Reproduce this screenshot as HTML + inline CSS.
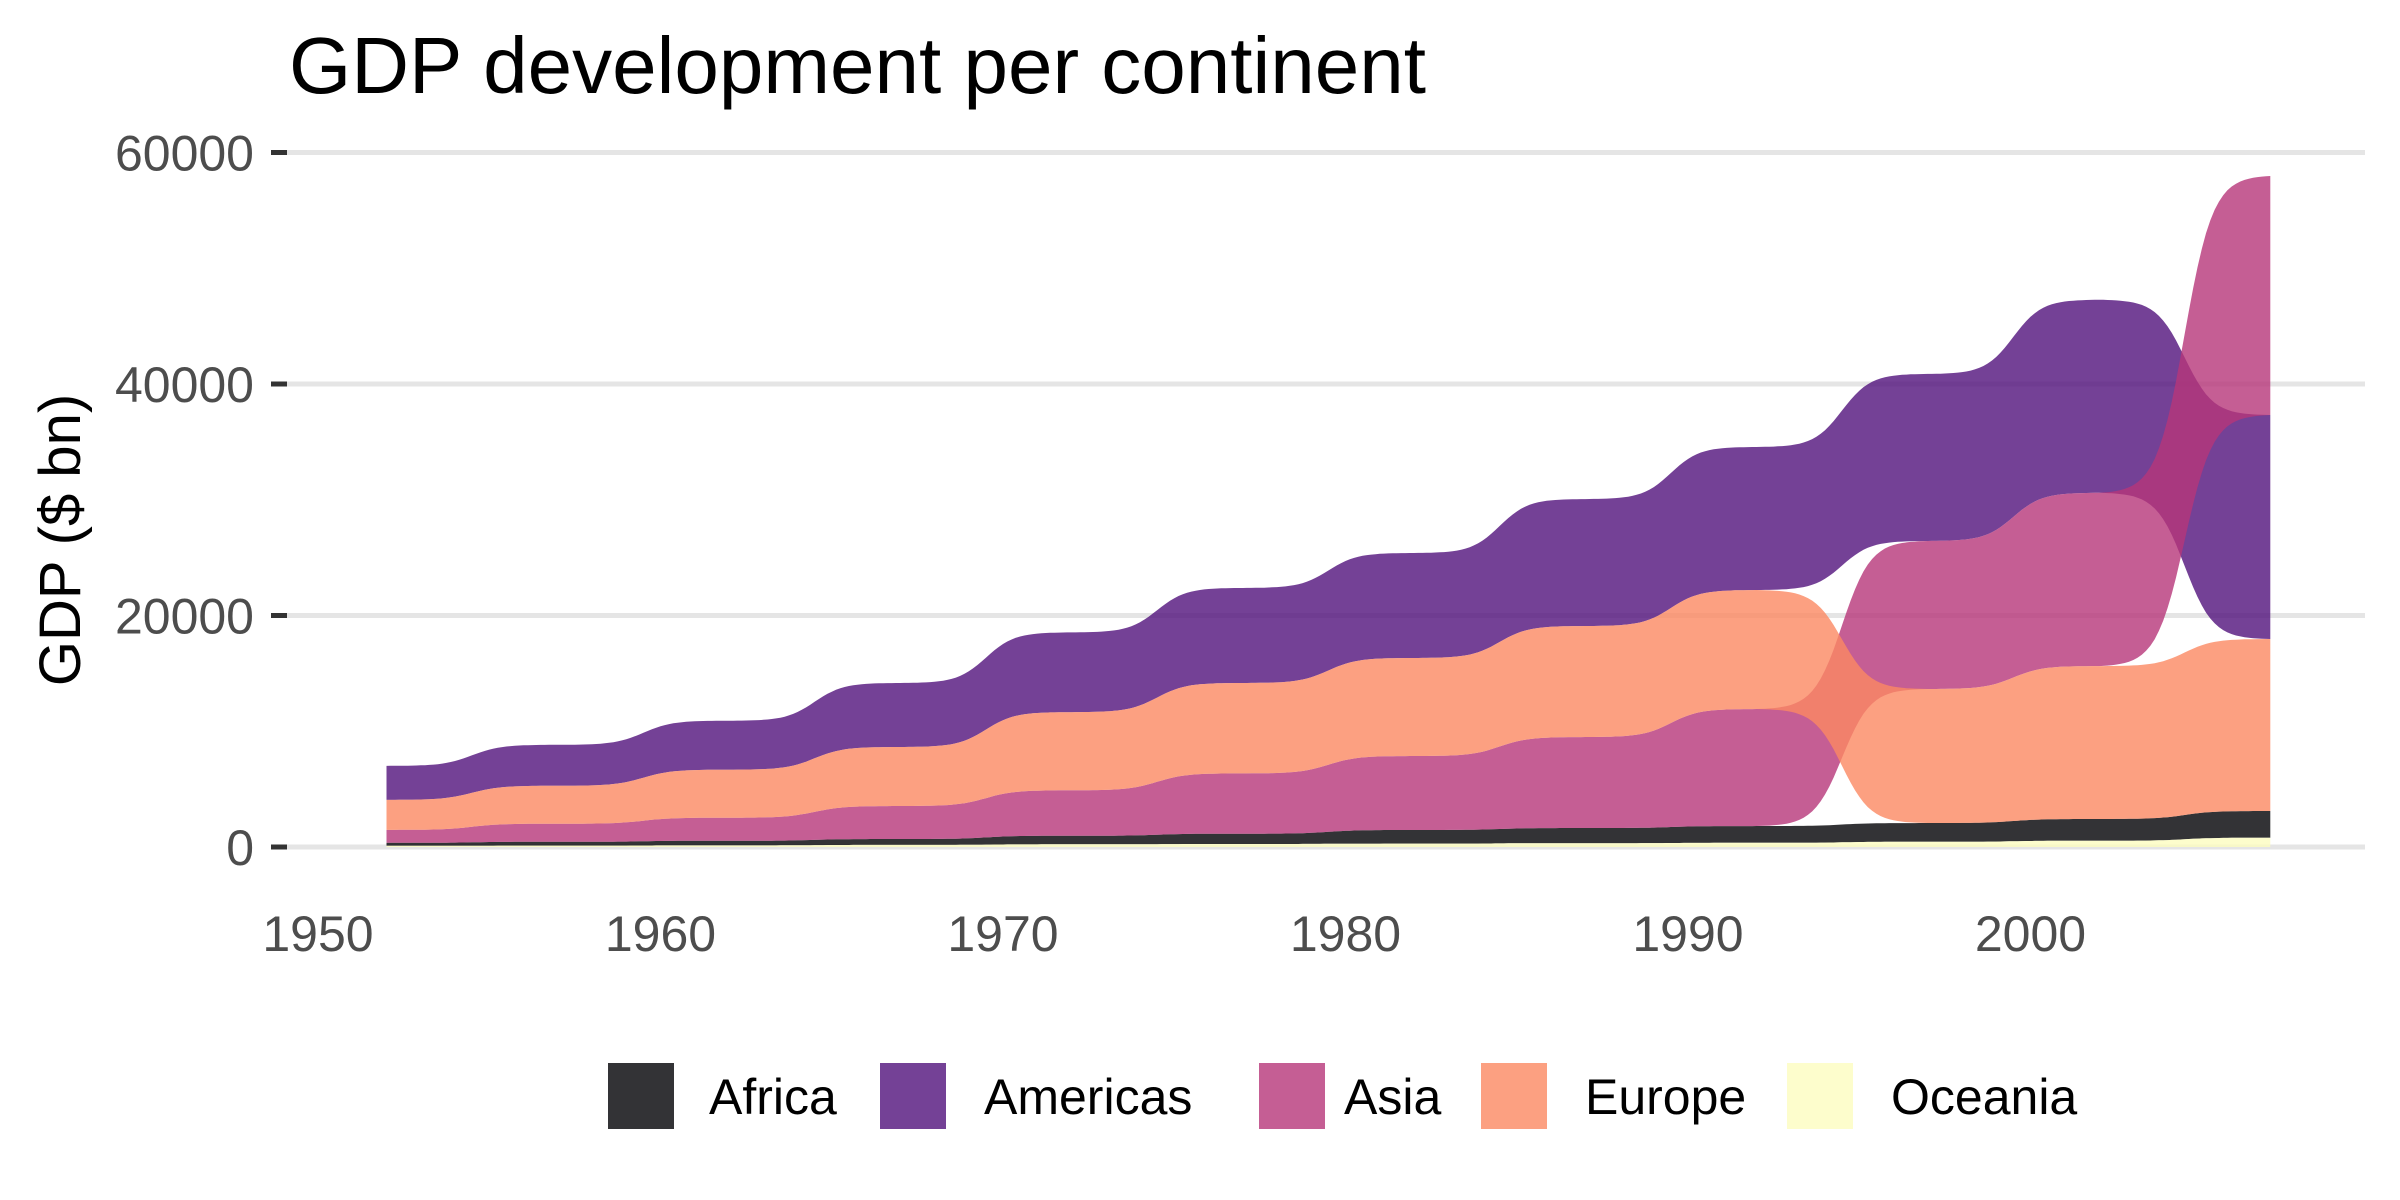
<!DOCTYPE html>
<html>
<head>
<meta charset="utf-8">
<style>
  html, body { margin: 0; padding: 0; background: #ffffff; }
  svg { display: block; font-family: "Liberation Sans", Arial, sans-serif; }
</style>
</head>
<body>
<svg id="chart" width="2400" height="1200" viewBox="0 0 2400 1200" xmlns="http://www.w3.org/2000/svg">
  <rect x="0" y="0" width="2400" height="1200" fill="#ffffff"/>
  <text x="289" y="93" font-size="80" fill="#000000">GDP development per continent</text>
  <g id="grid"></g>
  <g id="areas"></g>
  <g id="yaxis"></g>
  <g id="xaxis"></g>
  <text transform="translate(80,540) rotate(-90)" text-anchor="middle" font-size="58" fill="#000000">GDP ($ bn)</text>
  <g id="legend"></g>
</svg>
<script>
const years = [1952,1957,1962,1967,1972,1977,1982,1987,1992,1997,2002,2007];
const continents = ["Africa","Americas","Asia","Europe","Oceania"];
const africaGdp   = [260,330,400,510,740,890,1180,1310,1450,1620,1880,2310];
const americasGdp = [2940,3540,4230,5530,6890,8210,9070,10970,12360,14430,16680,19350];
const asiaGdp     = [1120,1560,1990,2850,3930,5210,6390,7860,10110,12790,14970,20650];
const europeGdp   = [2590,3280,4150,5100,6750,7810,8470,9590,10280,11580,13210,14860];
const oceaniaGdp  = [100,120,140,180,230,260,290,330,360,450,540,800];
const yTicks = [0,20000,40000,60000];
const yTickLabels = ["0","20000","40000","60000"];
const xTicks = [1950,1960,1970,1980,1990,2000];
const xTickLabels = ["1950","1960","1970","1980","1990","2000"];

const colors = ["#000004","#51127C","#B63679","#FB8861","#FCFDBF"];
const series = [africaGdp, americasGdp, asiaGdp, europeGdp, oceaniaGdp];
const NS = "http://www.w3.org/2000/svg";
const plotL = 287, plotR = 2365;
function xScale(yr) { return 318 + (yr - 1950) * 34.25; }
function yScale(v) { return 847 - v * (231.5 / 20000); }

const grid = document.getElementById('grid');
const yaxis = document.getElementById('yaxis');
yTicks.forEach((t, i) => {
  const y = yScale(t);
  const gl = document.createElementNS(NS, 'line');
  
  
  gl.setAttribute('x1', plotL); gl.setAttribute('x2', plotR);
  gl.setAttribute('y1', y); gl.setAttribute('y2', y);
  gl.setAttribute('stroke', '#e5e5e5'); gl.setAttribute('stroke-width', '5');
  grid.appendChild(gl);
  const tk = document.createElementNS(NS, 'line');
  
  
  tk.setAttribute('x1', 271); tk.setAttribute('x2', 287);
  tk.setAttribute('y1', y); tk.setAttribute('y2', y);
  tk.setAttribute('stroke', '#333333'); tk.setAttribute('stroke-width', '5');
  yaxis.appendChild(tk);
  const lb = document.createElementNS(NS, 'text');
  
  
  lb.setAttribute('x', 254); lb.setAttribute('y', y + 18);
  lb.setAttribute('text-anchor', 'end'); lb.setAttribute('font-size', '50');
  lb.setAttribute('fill', '#4d4d4d');
  lb.textContent = yTickLabels[i];
  yaxis.appendChild(lb);
});
const xaxis = document.getElementById('xaxis');
xTicks.forEach((t, i) => {
  const lb = document.createElementNS(NS, 'text');
  
  
  lb.setAttribute('x', xScale(t)); lb.setAttribute('y', 951);
  lb.setAttribute('text-anchor', 'middle'); lb.setAttribute('font-size', '50');
  lb.setAttribute('fill', '#4d4d4d');
  lb.textContent = xTickLabels[i];
  xaxis.appendChild(lb);
});

const lows = series.map(() => []), highs = series.map(() => []);
years.forEach((yr, j) => {
  const order = series.map((s, i) => i).sort((a, b) => series[a][j] - series[b][j]);
  let cum = 0;
  order.forEach(i => { lows[i][j] = cum; cum += series[i][j]; highs[i][j] = cum; });
});
function sig(t) {
  const k = 12;
  const f = u => 1 / (1 + Math.exp(-k * (u - 0.5)));
  return (f(t) - f(0)) / (f(1) - f(0));
}
function edge(arr) {
  const pts = [];
  for (let j = 0; j < years.length - 1; j++) {
    const n = 40;
    for (let s = 0; s < n; s++) {
      const t = s / n;
      const x = years[j] + (years[j + 1] - years[j]) * t;
      const v = arr[j] + (arr[j + 1] - arr[j]) * sig(t);
      pts.push([xScale(x), yScale(v)]);
    }
  }
  pts.push([xScale(years[years.length - 1]), yScale(arr[arr.length - 1])]);
  return pts;
}
const areas = document.getElementById('areas');
series.forEach((s, i) => {
  const top = edge(highs[i]);
  const bot = edge(lows[i]).reverse();
  const all = top.concat(bot);
  const d = 'M' + all.map(p => p[0].toFixed(1) + ',' + p[1].toFixed(1)).join('L') + 'Z';
  const path = document.createElementNS(NS, 'path');
  
  
  path.setAttribute('d', d);
  path.setAttribute('fill', colors[i]);
  path.setAttribute('fill-opacity', '0.8');
  areas.appendChild(path);
});

const legendX = [608, 880, 1259, 1481, 1787];
const legendTextX = [709, 984, 1344, 1585, 1891];
const legend = document.getElementById('legend');
continents.forEach((c, i) => {
  const r = document.createElementNS(NS, 'rect');
  
  
  r.setAttribute('x', legendX[i]); r.setAttribute('y', 1063);
  r.setAttribute('width', 66); r.setAttribute('height', 66);
  r.setAttribute('fill', colors[i]); r.setAttribute('fill-opacity', '0.8');
  legend.appendChild(r);
  const t = document.createElementNS(NS, 'text');
  
  
  t.setAttribute('x', legendTextX[i]); t.setAttribute('y', 1114);
  t.setAttribute('font-size', '50'); t.setAttribute('fill', '#000000');
  t.textContent = c;
  legend.appendChild(t);
});
</script>
</body>
</html>
